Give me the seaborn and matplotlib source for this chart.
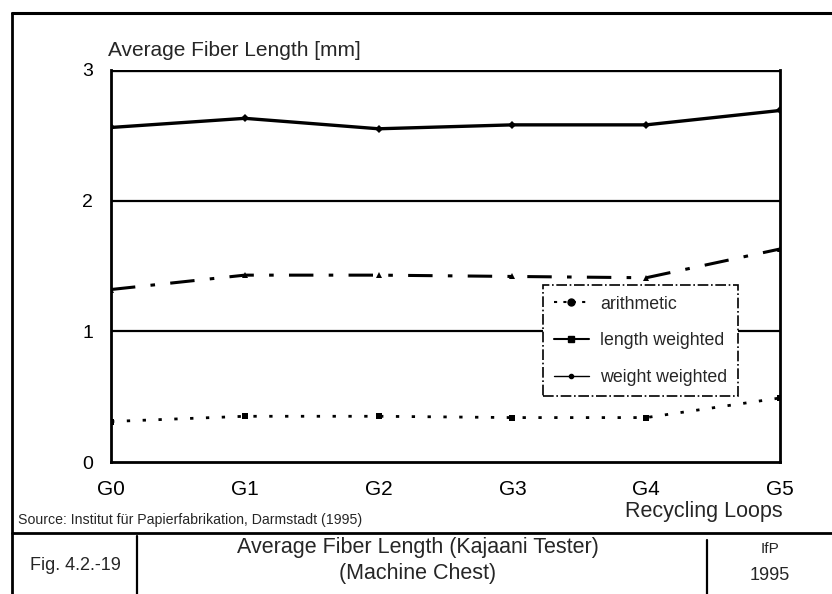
import matplotlib
matplotlib.use("Agg")
import matplotlib.pyplot as plt
from matplotlib.lines import Line2D
import seaborn as sns
import pandas as pd

# Recycling loops and measured average fiber lengths (mm)
loops = ["G0", "G1", "G2", "G3", "G4", "G5"]
arithmetic = [0.31, 0.35, 0.35, 0.34, 0.34, 0.49]
length_weighted = [1.32, 1.43, 1.43, 1.42, 1.41, 1.63]
weight_weighted = [2.56, 2.63, 2.55, 2.58, 2.58, 2.69]
y_ticks = [0, 1, 2, 3]

series_names = ["arithmetic", "length weighted", "weight weighted"]
series_values = [arithmetic, length_weighted, weight_weighted]

rows = []
for name, vals in zip(series_names, series_values):
    for i, (lp, v) in enumerate(zip(loops, vals)):
        rows.append({"loop": i, "label": lp, "series": name, "length": v})
df = pd.DataFrame(rows)

sns.set_theme(style="white")
plt.rcParams["font.family"] = ["Liberation Sans", "DejaVu Sans"]

fig = plt.figure(figsize=(8.32, 5.94), dpi=100)
ax = fig.add_axes([0.1334, 0.2222, 0.9375 - 0.1334, 0.8822 - 0.2222])

styles = {
    "arithmetic": dict(ls=(0, (1.2, 4.5)), lw=2.0, marker="s", ms=4),
    "length weighted": dict(ls=(0, (8, 5, 1.5, 5)), lw=2.2, marker="^", ms=5),
    "weight weighted": dict(ls="-", lw=2.4, marker="D", ms=4),
}

for name in series_names:
    sub = df[df["series"] == name]
    st = styles[name]
    sns.lineplot(data=sub, x="loop", y="length", ax=ax, color="black",
                 linestyle=st["ls"], linewidth=st["lw"], marker=st["marker"],
                 markersize=st["ms"], markeredgewidth=0, legend=False,
                 zorder=3)

ax.set_xlim(0, len(loops) - 1)
ax.set_ylim(0, 3)
ax.set_yticks(y_ticks)
ax.set_yticklabels([str(t) for t in y_ticks], fontsize=14)
ax.set_xticks(range(len(loops)))
ax.set_xticklabels(loops, fontsize=15)
ax.tick_params(axis="both", length=0, colors="black")
ax.tick_params(axis="y", pad=13)
ax.tick_params(axis="x", pad=13)
ax.set_xlabel("")
ax.set_ylabel("")

for t in [1, 2, 3]:
    ax.axhline(t, color="black", lw=1.6 if t != 3 else 2.4, zorder=2)
for side in ["left", "right", "bottom"]:
    ax.spines[side].set_visible(True)
    ax.spines[side].set_color("black")
    ax.spines[side].set_linewidth(2.0)
ax.spines["top"].set_visible(False)

# legend with dash-dot frame
handles = [
    Line2D([], [], color="black", ls=(0, (1.5, 3)), lw=1.5, marker="o", ms=5),
    Line2D([], [], color="black", ls="-", lw=1.5, marker="s", ms=4),
    Line2D([], [], color="black", ls="-", lw=1.0, marker="o", ms=3),
]
leg = ax.legend(handles, series_names, loc="upper left",
                bbox_to_anchor=((543 - 111) / 669, (462 - 285) / 392),
                borderaxespad=0, frameon=True, fancybox=False, fontsize=12.8,
                handlelength=2.0, labelspacing=1.1, borderpad=0.6,
                handletextpad=0.6, edgecolor="black", framealpha=1)
leg.get_frame().set_linestyle("-.")
leg.get_frame().set_linewidth(1.2)
leg.set_zorder(5)

fig.text(108 / 832, 1 - 50 / 594, "Average Fiber Length [mm]", fontsize=15,
         ha="left", va="center")
fig.text(783 / 832, 1 - 511 / 594, "Recycling Loops", fontsize=15.5,
         ha="right", va="center")
fig.text(18 / 832, 1 - 520 / 594,
         "Source: Institut für Papierfabrikation, Darmstadt (1995)",
         fontsize=10.2, ha="left", va="center")

# outer frame and caption table
W, H = 832, 594
def hline(y, x0, x1, lw=2.0):
    fig.add_artist(Line2D([x0 / W, x1 / W], [1 - y / H, 1 - y / H],
                          color="black", lw=lw, transform=fig.transFigure))
def vline(x, y0, y1, lw=2.0):
    fig.add_artist(Line2D([x / W, x / W], [1 - y0 / H, 1 - y1 / H],
                          color="black", lw=lw, transform=fig.transFigure))

hline(13, 12, 832, 2.2)
vline(12, 13, 594, 2.0)
hline(533, 12, 832, 2.0)
vline(137, 536, 594, 1.6)
vline(707, 540, 594, 1.6)

fig.text(75 / W, 1 - 566 / H, "Fig. 4.2.-19", fontsize=13, ha="center",
         va="center")
fig.text(418 / W, 1 - 548 / H, "Average Fiber Length (Kajaani Tester)",
         fontsize=15.5, ha="center", va="center")
fig.text(418 / W, 1 - 573 / H, "(Machine Chest)", fontsize=15.5,
         ha="center", va="center")
fig.text(770 / W, 1 - 549 / H, "IfP", fontsize=11, ha="center", va="center")
fig.text(770 / W, 1 - 576 / H, "1995", fontsize=13, ha="center",
         va="center")

fig.savefig("out.png", dpi=100)
